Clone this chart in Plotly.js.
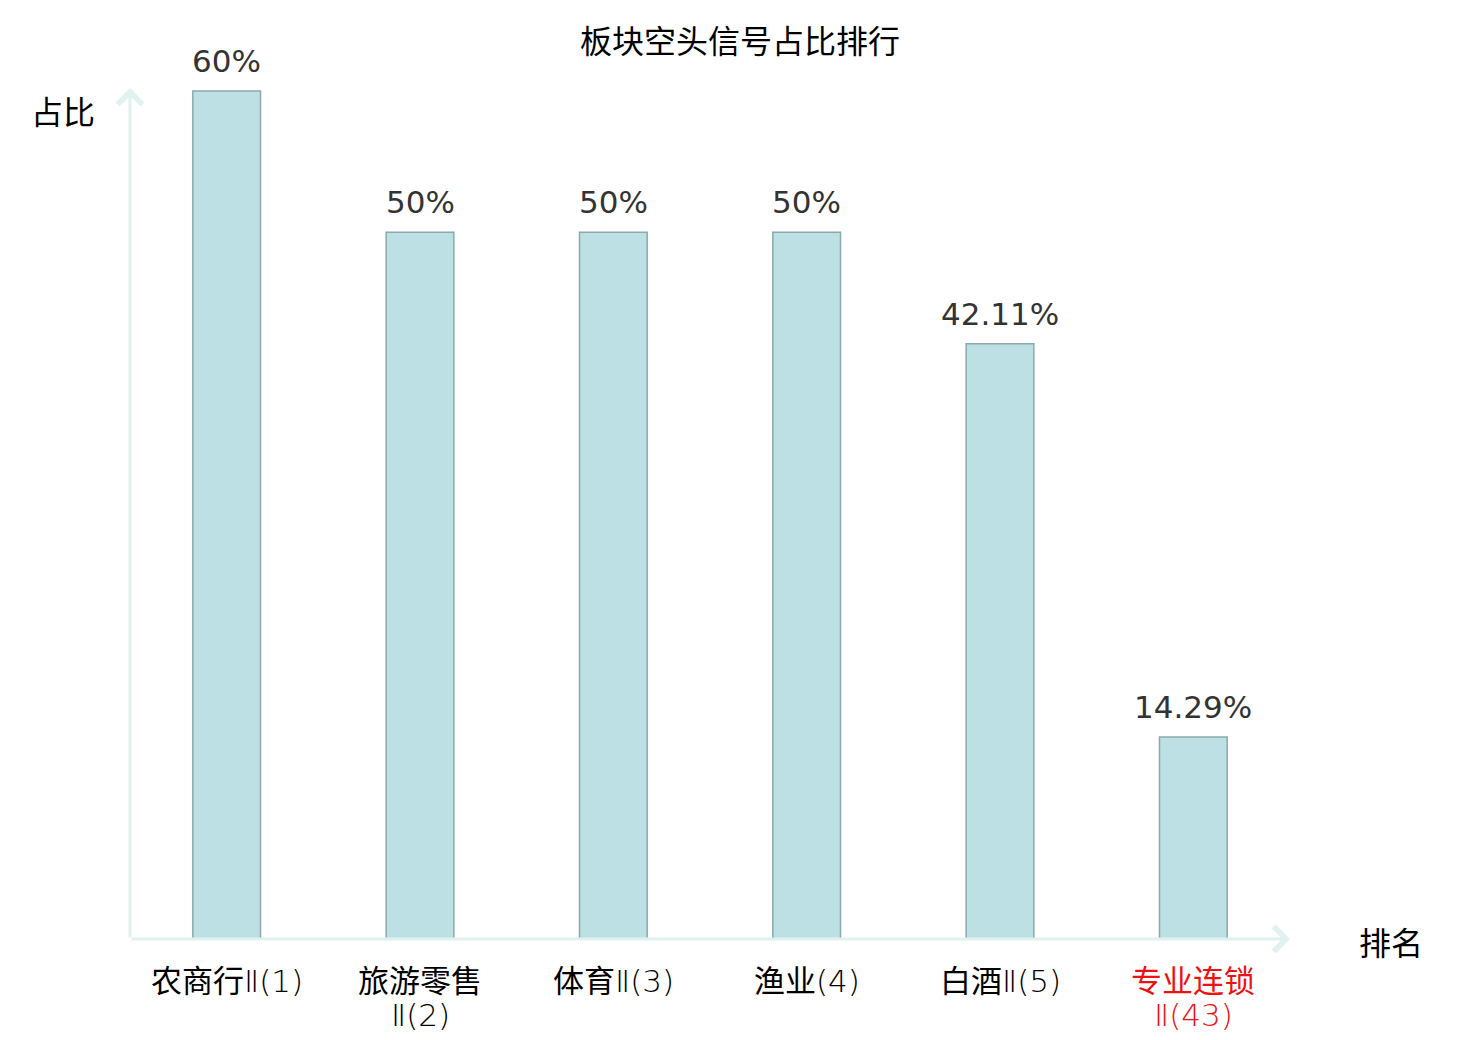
<!DOCTYPE html>
<html>
<head>
<meta charset="utf-8">
<script src="https://cdn.plot.ly/plotly-3.0.1.min.js"></script>
<style>
  html, body { margin: 0; padding: 0; background: #fff; }
  #chart { width: 1480px; height: 1040px; }
</style>
</head>
<body>
<div id="chart"></div>
<script>
// categories, in rank order (lines of each label split with <br>)
const sectors = ['农商行Ⅱ(1)', '旅游零售<br>Ⅱ(2)', '体育Ⅱ(3)', '渔业(4)', '白酒Ⅱ(5)', '专业连锁<br>Ⅱ(43)'];
// share of bearish signals, in percent
const shares = [60, 50, 50, 50, 42.11, 14.29];
// which label is highlighted in red
const highlight = [false, false, false, false, false, true];

const NUM_FONT = 'DejaVu Sans, sans-serif';
const CJK_FONT = '"Noto Sans CJK SC", DejaVu Sans, sans-serif';
const TICK_FONT = '"DejaVu Sans", "Noto Sans CJK SC", sans-serif';
const AXIS_COLOR = '#dff2ef';

//positions on the x axis, one per category
let xs = sectors.map(function(s, i){ return i; });

//the numbering part of a label is drawn in a light weight, the chinese part stays regular
function lightLatin(line)
{
  return line.replace(/([^\u4e00-\u9fff]+)/g, '<span style="font-weight:200">$1</span>');
}

let barTrace =
{
  type: 'bar',
  x: xs,
  y: shares,
  width: 0.35,
  marker:
  {
    color: '#bce0e3',
    line: { color: '#8aa9aa', width: 1.5 }
  },
  hoverinfo: 'none'
};

let annotations =
[
  //x axis with arrow
  {
    xref: 'paper', yref: 'paper', x: 1, y: 0,
    axref: 'pixel', ayref: 'pixel', ax: -1160, ay: 0,
    showarrow: true, arrowhead: 4, arrowsize: 1.6, arrowwidth: 3,
    arrowcolor: AXIS_COLOR, standoff: 0, text: ''
  },
  //y axis with arrow
  {
    xref: 'paper', yref: 'paper', x: 0, y: 1,
    axref: 'pixel', ayref: 'pixel', ax: 0, ay: 851,
    showarrow: true, arrowhead: 4, arrowsize: 1.6, arrowwidth: 3,
    arrowcolor: AXIS_COLOR, standoff: 0, text: ''
  },
  {
    xref: 'paper', yref: 'paper', x: -0.0578, y: 0.974,
    xanchor: 'center', yanchor: 'middle', showarrow: false,
    text: '占比', font: { family: CJK_FONT, size: 32, color: '#000000' }
  },
  {
    xref: 'paper', yref: 'paper', x: 1.087, y: -0.002,
    xanchor: 'center', yanchor: 'middle', showarrow: false,
    text: '排名', font: { family: CJK_FONT, size: 32, color: '#000000' }
  }
];

//value labels above the bars
shares.forEach(function(v, i)
{
  annotations.push({
    x: xs[i], y: v, xref: 'x', yref: 'y',
    xanchor: 'center', yanchor: 'middle', yshift: 30,
    showarrow: false, text: v + '%',
    font: { family: NUM_FONT, size: 31, color: '#333333' }
  });
});

//category labels under the axis, one annotation per line so the spacing stays tight
sectors.forEach(function(s, i)
{
  s.split('<br>').forEach(function(line, k)
  {
    annotations.push({
      x: xs[i], y: 0, xref: 'x', yref: 'paper',
      xanchor: 'center', yanchor: 'middle', yshift: -42 - 34 * k,
      showarrow: false, text: lightLatin(line),
      font: { family: TICK_FONT, size: 31, color: highlight[i] ? '#ee1111' : '#000000' }
    });
  });
});

let layout =
{
  width: 1480,
  height: 1040,
  margin: { l: 130, r: 190, t: 88, b: 101 },
  paper_bgcolor: '#ffffff',
  plot_bgcolor: '#ffffff',
  showlegend: false,
  font: { family: CJK_FONT, size: 32, color: '#000000' },
  title:
  {
    text: '板块空头信号占比排行',
    font: { family: CJK_FONT, size: 32, color: '#000000' },
    x: 0.5,
    xanchor: 'center',
    y: 0.96,
    yanchor: 'middle'
  },
  xaxis:
  {
    range: [-0.5, 5.5],
    showticklabels: false,
    ticks: '',
    showline: false,
    showgrid: false,
    zeroline: false
  },
  yaxis:
  {
    range: [0, 60.21],
    showticklabels: false,
    showline: false,
    showgrid: false,
    zeroline: false,
    ticks: ''
  },
  annotations: annotations
};

Plotly.newPlot('chart', [barTrace], layout, { displayModeBar: false, staticPlot: true });
</script>
</body>
</html>
